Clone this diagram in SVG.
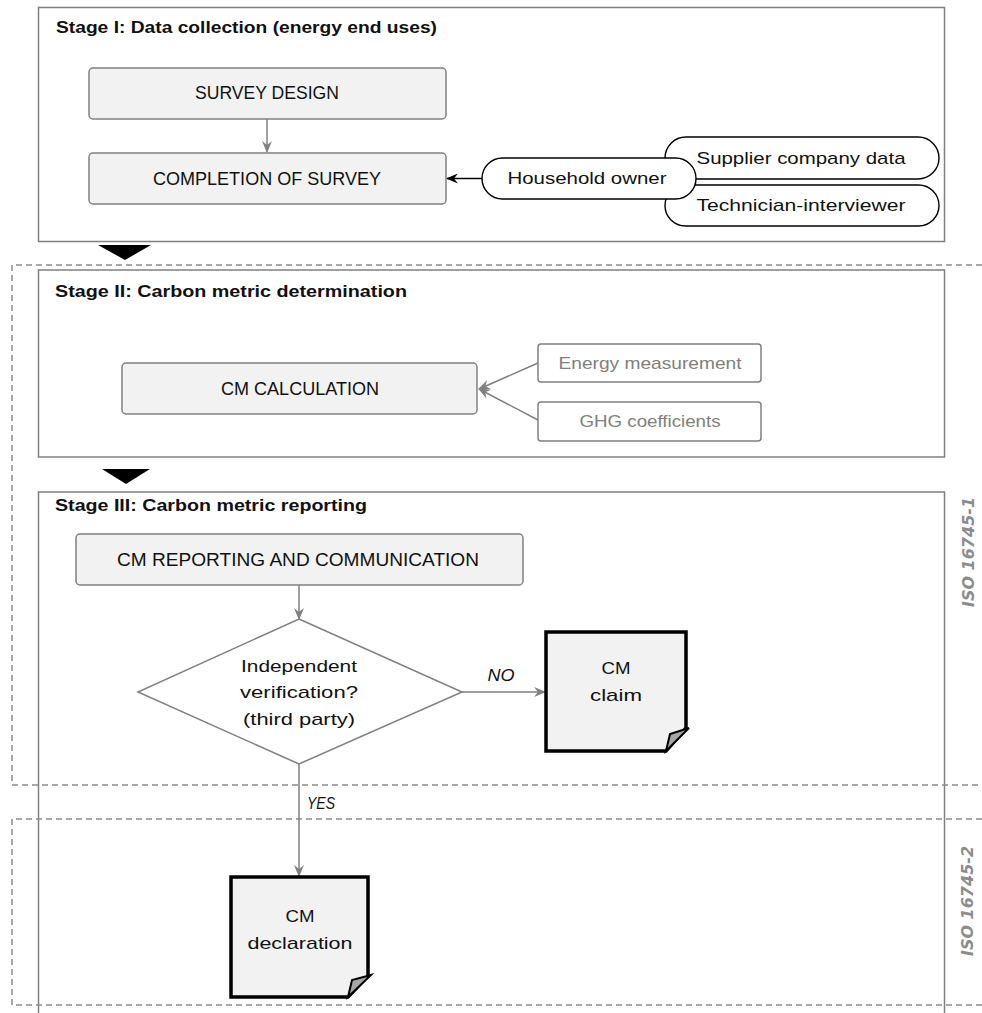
<svg xmlns="http://www.w3.org/2000/svg" width="982" height="1013" viewBox="0 0 982 1013">
<style>
  text { font-family: "Liberation Sans", "DejaVu Sans", sans-serif; fill: #111; }
  .title { font-size: 17px; font-weight: bold; }
  .lbl { font-size: 18px; text-anchor: middle; }
  .sm { font-size: 17px; text-anchor: middle; }
  .gray { fill: #808080; }
  .it { font-size: 16px; font-style: italic; }
  .iso { font-family: "DejaVu Sans", sans-serif; font-size: 16px; font-weight: bold; font-style: italic; fill: #8c8c8c; text-anchor: middle; }
  .stage { fill: #fff; stroke: #808080; stroke-width: 1.5; }
  .box { fill: #f2f2f2; stroke: #808080; stroke-width: 1.5; }
  .inbox { fill: #fff; stroke: #808080; stroke-width: 1.5; }
  .pill { fill: #fff; stroke: #000; stroke-width: 1.4; }
  .dash { fill: none; stroke: #8c8c8c; stroke-width: 1.5; stroke-dasharray: 6 4; }
  .conn { fill: none; stroke: #808080; stroke-width: 1.5; }
  .connk { fill: none; stroke: #000; stroke-width: 1.4; }
  .doc { fill: #f2f2f2; stroke: #000; stroke-width: 3.5; stroke-linejoin: miter; }
  .flap { fill: #a6a6a6; stroke: #000; stroke-width: 2; stroke-linejoin: miter; }
</style>
<defs>
  <marker id="ag" viewBox="0 0 12 10" refX="11" refY="5" markerWidth="12" markerHeight="10" markerUnits="userSpaceOnUse" orient="auto">
    <path d="M0,0 L12,5 L0,10 L4,5 Z" fill="#808080"/>
  </marker>
  <marker id="ak" viewBox="0 0 12 10" refX="11" refY="5" markerWidth="12" markerHeight="10" markerUnits="userSpaceOnUse" orient="auto">
    <path d="M0,0 L12,5 L0,10 L4,5 Z" fill="#000"/>
  </marker>
</defs>

<!-- Stage containers -->
<g id="stage1">
  <rect class="stage" x="38.5" y="7.5" width="906" height="234"/>
  <text class="title" x="56" y="27" dominant-baseline="central" textLength="381" lengthAdjust="spacingAndGlyphs">Stage I:  Data collection (energy end uses)</text>
</g>
<g id="stage2">
  <rect class="stage" x="38.5" y="270" width="906" height="187"/>
  <text class="title" x="55" y="291" dominant-baseline="central" textLength="352" lengthAdjust="spacingAndGlyphs">Stage II:  Carbon metric determination</text>
</g>
<g id="stage3">
  <rect class="stage" x="38.5" y="492" width="906" height="540"/>
  <text class="title" x="55" y="505" dominant-baseline="central" textLength="312" lengthAdjust="spacingAndGlyphs">Stage III:  Carbon metric reporting</text>
</g>

<!-- dashed ISO regions -->
<g id="iso-regions">
  <path class="dash" d="M982,265 H12 V785 H982"/>
  <path class="dash" d="M982,819 H12 V1005 H982"/>
  <text class="iso" transform="translate(968,552) rotate(-90)" dominant-baseline="central">ISO 16745-1</text>
  <text class="iso" transform="translate(967,901) rotate(-90)" dominant-baseline="central">ISO 16745-2</text>
</g>

<!-- stage transition triangles -->
<g id="stage-arrows">
  <polygon points="98,245 151,245 125,260" fill="#000"/>
  <polygon points="102,469 150,469 126,484" fill="#000"/>
</g>

<!-- connectors -->
<g id="connectors">
  <line class="conn" x1="267" y1="119" x2="267" y2="152" marker-end="url(#ag)"/>
  <line class="connk" x1="483" y1="178.5" x2="447" y2="178.5" marker-end="url(#ak)"/>
  <line class="conn" x1="538" y1="363" x2="479" y2="389" marker-end="url(#ag)"/>
  <line class="conn" x1="538" y1="420" x2="479" y2="389" marker-end="url(#ag)"/>
  <line class="conn" x1="299" y1="585" x2="299" y2="619" marker-end="url(#ag)"/>
  <line class="conn" x1="462" y1="692" x2="545" y2="692" marker-end="url(#ag)"/>
  <line class="conn" x1="299" y1="764" x2="299" y2="876" marker-end="url(#ag)"/>
  <text class="it" x="501" y="675" text-anchor="middle" dominant-baseline="central" textLength="27" lengthAdjust="spacingAndGlyphs">NO</text>
  <text class="it" x="321" y="803" text-anchor="middle" dominant-baseline="central" textLength="28" lengthAdjust="spacingAndGlyphs">YES</text>
</g>

<!-- Stage I nodes -->
<g id="survey-design">
  <rect class="box" x="89" y="68" width="357" height="51" rx="4"/>
  <text class="lbl" x="267" y="93" dominant-baseline="central" textLength="144" lengthAdjust="spacingAndGlyphs">SURVEY  DESIGN</text>
</g>
<g id="completion-of-survey">
  <rect class="box" x="89" y="153" width="357" height="51" rx="4"/>
  <text class="lbl" x="267" y="179" dominant-baseline="central" textLength="228" lengthAdjust="spacingAndGlyphs">COMPLETION  OF SURVEY</text>
</g>
<g id="supplier-company-data">
  <rect class="pill" x="665" y="137" width="274" height="42" rx="21"/>
  <text class="sm" x="801" y="158" dominant-baseline="central" textLength="209" lengthAdjust="spacingAndGlyphs">Supplier company data</text>
</g>
<g id="technician-interviewer">
  <rect class="pill" x="665" y="185" width="274" height="41" rx="20.5"/>
  <text class="sm" x="801" y="205" dominant-baseline="central" textLength="209" lengthAdjust="spacingAndGlyphs">Technician-interviewer</text>
</g>
<g id="household-owner">
  <rect class="pill" x="482" y="158" width="214" height="41" rx="20.5"/>
  <text class="sm" x="587" y="178" dominant-baseline="central" textLength="159" lengthAdjust="spacingAndGlyphs">Household owner</text>
</g>

<!-- Stage II nodes -->
<g id="cm-calculation">
  <rect class="box" x="122" y="363" width="355" height="51" rx="4"/>
  <text class="lbl" x="300" y="389" dominant-baseline="central" textLength="158" lengthAdjust="spacingAndGlyphs">CM CALCULATION</text>
</g>
<g id="energy-measurement">
  <rect class="inbox" x="538" y="344" width="223" height="38" rx="3"/>
  <text class="sm gray" x="650" y="363" dominant-baseline="central" textLength="183" lengthAdjust="spacingAndGlyphs">Energy measurement</text>
</g>
<g id="ghg-coefficients">
  <rect class="inbox" x="538" y="402" width="223" height="39" rx="3"/>
  <text class="sm gray" x="650" y="421" dominant-baseline="central" textLength="141" lengthAdjust="spacingAndGlyphs">GHG coefficients</text>
</g>

<!-- Stage III nodes -->
<g id="cm-reporting">
  <rect class="box" x="76" y="534" width="447" height="51" rx="4"/>
  <text class="lbl" x="298" y="560" dominant-baseline="central" textLength="362" lengthAdjust="spacingAndGlyphs">CM REPORTING  AND  COMMUNICATION</text>
</g>
<g id="independent-verification">
  <polygon points="299,619 462,692 299,764 138,692" fill="#fff" stroke="#808080" stroke-width="1.5"/>
  <text class="sm" x="299" y="666" dominant-baseline="central" textLength="116" lengthAdjust="spacingAndGlyphs">Independent</text>
  <text class="sm" x="299" y="692" dominant-baseline="central" textLength="118" lengthAdjust="spacingAndGlyphs">verification?</text>
  <text class="sm" x="299" y="719" dominant-baseline="central" textLength="112" lengthAdjust="spacingAndGlyphs">(third party)</text>
</g>
<g id="cm-claim">
  <path class="doc" d="M546,632 H686 V728 L666,751 H546 Z"/>
  <polygon class="flap" points="666,751 670,734 689,728"/>
  <text class="sm" x="616" y="668" dominant-baseline="central" textLength="29" lengthAdjust="spacingAndGlyphs">CM</text>
  <text class="sm" x="616" y="695" dominant-baseline="central" textLength="52" lengthAdjust="spacingAndGlyphs">claim</text>
</g>
<g id="cm-declaration">
  <path class="doc" d="M231,877 H368 V976 L348,997 H231 Z"/>
  <polygon class="flap" points="348,997 352,980 371,975"/>
  <text class="sm" x="300" y="916" dominant-baseline="central" textLength="29" lengthAdjust="spacingAndGlyphs">CM</text>
  <text class="sm" x="300" y="943" dominant-baseline="central" textLength="105" lengthAdjust="spacingAndGlyphs">declaration</text>
</g>
</svg>
